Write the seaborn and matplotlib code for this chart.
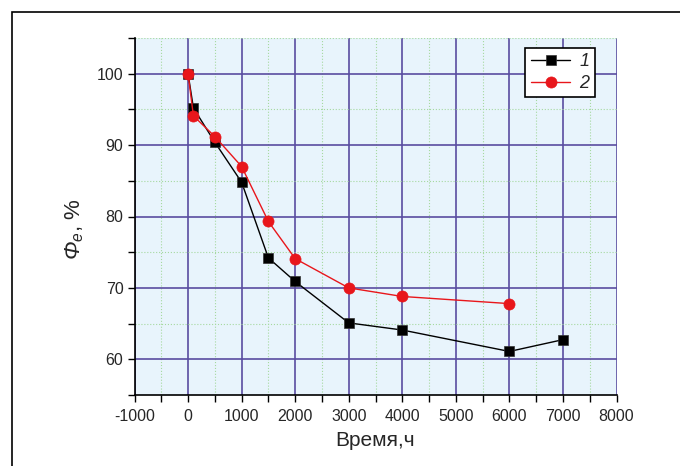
import matplotlib
matplotlib.use("Agg")
import matplotlib.pyplot as plt
import seaborn as sns
import pandas as pd
from matplotlib.ticker import MultipleLocator
from matplotlib.patches import Rectangle

time1 = [0, 100, 500, 1000, 1500, 2000, 3000, 4000, 6000, 7000]
phi1 = [100, 95.2, 90.4, 84.8, 74.2, 70.9, 65.1, 64.1, 61.1, 62.75]
time2 = [0, 100, 500, 1000, 1500, 2000, 3000, 4000, 6000]
phi2 = [100, 94.1, 91.2, 87.0, 79.3, 74.1, 70.0, 68.8, 67.8]
labels = ["1", "2"]

sns.set_style("white")
plt.rcParams['font.family'] = ['Liberation Sans', 'DejaVu Sans']
plt.rcParams['axes.unicode_minus'] = False
plt.rcParams['mathtext.fontset'] = 'custom'
plt.rcParams['mathtext.rm'] = 'Liberation Sans:italic'
plt.rcParams['mathtext.it'] = 'Liberation Sans:italic'
plt.rcParams['mathtext.bf'] = 'Liberation Sans:bold'

fig = plt.figure(figsize=(6.8, 4.66), dpi=100)
fig.patches.append(Rectangle((12/680, -0.1), 1.1, 1 - 12/466 + 0.1, transform=fig.transFigure,
                             fill=False, edgecolor='black', linewidth=1.2, zorder=0))
ax = fig.add_axes([134.5/680, 1 - 395/466, (616.5-134.5)/680, (395-38)/466])
ax.set_facecolor('#E8F4FC')

df1 = pd.DataFrame({"t": time1, "phi": phi1})
df2 = pd.DataFrame({"t": time2, "phi": phi2})
sns.lineplot(data=df1, x="t", y="phi", ax=ax, color='black', marker='s', markersize=7,
             markeredgecolor='#333333', markeredgewidth=0.5, linewidth=1, label=labels[0], zorder=3)
sns.lineplot(data=df2, x="t", y="phi", ax=ax, color='#E8161B', marker='o', markersize=8,
             markeredgecolor='#E8161B', markeredgewidth=0.5, linewidth=1, label=labels[1], zorder=3)

ax.set_xlim(-1000, 8000)
ax.set_ylim(55, 105)
ax.xaxis.set_major_locator(MultipleLocator(1000))
ax.xaxis.set_minor_locator(MultipleLocator(500))
ax.yaxis.set_major_locator(MultipleLocator(10))
ax.yaxis.set_minor_locator(MultipleLocator(5))
ax.set_yticks([60, 70, 80, 90, 100])

ax.grid(which='major', color='#5A4DA0', linewidth=1.2, linestyle='-')
ax.grid(which='minor', color='#A6D9A0', linewidth=0.8, linestyle=':')
ax.set_axisbelow(True)

for s in ['top', 'right']:
    ax.spines[s].set_visible(False)
for s in ['left', 'bottom']:
    ax.spines[s].set_color('black')
    ax.spines[s].set_linewidth(1.2)

ax.tick_params(which='both', direction='out', length=5, width=1, color='black',
               labelsize=11.5, left=True, bottom=True)
ax.tick_params(axis='x', which='major', pad=5)
ax.tick_params(axis='y', which='major', pad=3)

ax.set_xlabel("Время,ч", fontsize=15, labelpad=5)
ax.set_ylabel(r"$Φ_{e}$, %", fontsize=16)
ax.yaxis.set_label_coords(-0.10, 0.465)

leg = ax.legend(loc='upper right', bbox_to_anchor=(0.955, 0.972), frameon=True, fancybox=False,
                edgecolor='black', framealpha=1, fontsize=13, handlelength=2.2,
                borderpad=0.3, labelspacing=0.25, handletextpad=0.5, borderaxespad=0)
leg.get_frame().set_linewidth(1.2)
for t in leg.get_texts():
    t.set_fontstyle('italic')

fig.savefig("out.png", dpi=100)
